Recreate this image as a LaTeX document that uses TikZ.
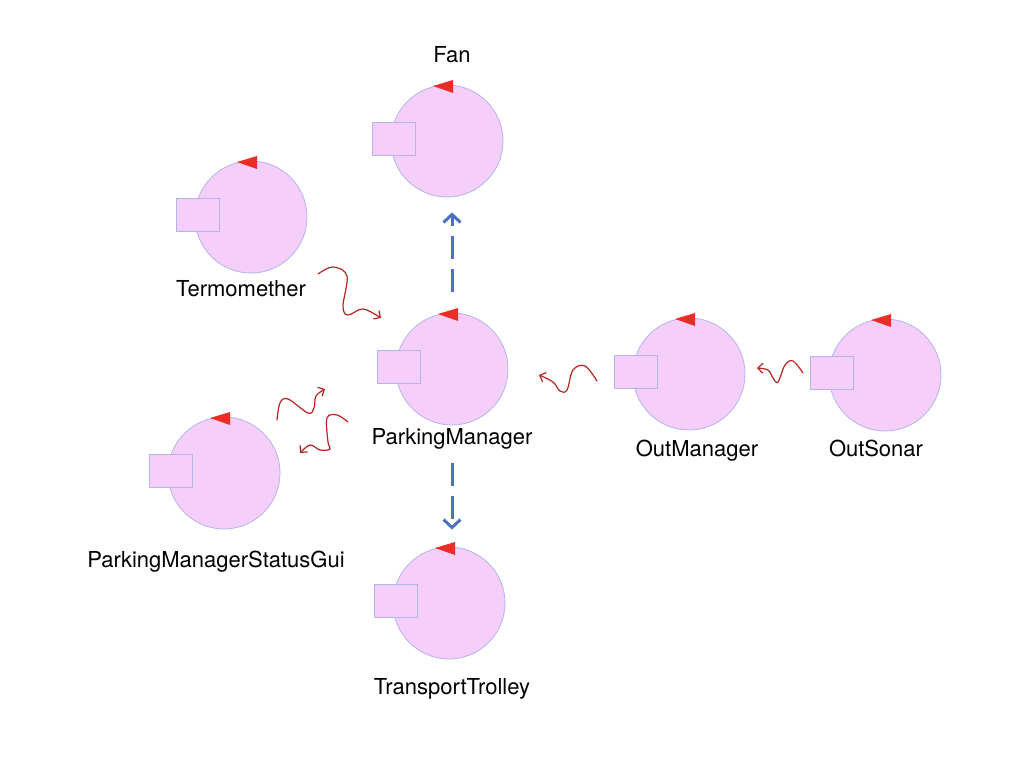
\documentclass[tikz,border=0pt]{standalone}
\usepackage{fontspec}
\setmainfont{TeX Gyre Heros}
\usetikzlibrary{calc,arrows.meta}
\definecolor{cfill}{RGB}{246,206,250}
\definecolor{cborder}{RGB}{178,180,236}
\definecolor{tred}{RGB}{232,46,38}
\definecolor{arrblue}{RGB}{78,112,192}
\definecolor{sqred}{RGB}{184,36,32}
\newcommand\mycomp[3]{%
  \node[comp] (#1) at (#2,#3) {};
  \node[port] (#1-port) at ($(#1)+(-53.5,-2.5)$) {};
  \fill[tred] ($(#1)+(-14,-55)$) -- ($(#1)+(6,-61)$) -- ($(#1)+(6,-48)$) -- cycle;
}
\begin{document}
\begin{tikzpicture}[x=1pt,y=-1pt,
  comp/.style={circle,draw=cborder,fill=cfill,minimum size=112pt,inner sep=0pt,line width=0.8pt},
  port/.style={rectangle,draw=cborder,fill=cfill,minimum width=43pt,minimum height=33pt,inner sep=0pt,line width=0.8pt},
  lbl/.style={font=\fontsize{22}{26}\selectfont,anchor=base,inner sep=0pt},
  flow/.style={draw=arrblue,line width=3pt,dash pattern=on 23pt off 10pt,-{Straight Barb[length=8pt,width=17pt]}},
  squig/.style={draw=sqred,line width=1.2pt,line cap=round,-{Straight Barb[length=5pt,width=10pt]}}]
\useasboundingbox (0,0) rectangle (1024,768);
\fill[white] (0,0) rectangle (1024,768);

\mycomp{fan}{447}{141}
\mycomp{term}{251}{217}
\mycomp{pm}{452}{369}
\mycomp{gui}{224}{473}
\mycomp{tt}{449}{603}
\mycomp{om}{689}{374}
\mycomp{os}{885}{375}

\node[lbl] (fanl) at (452,63) {Fan};
\node[lbl] (terml) at (241,296) {Termomether};
\node[lbl] (pml) at (452,444) {ParkingManager};
\node[lbl] (oml) at (697,456) {OutManager};
\node[lbl] (osl) at (876,456) {OutSonar};
\node[lbl] (guil) at (216,567) {ParkingManagerStatusGui};
\node[lbl] (ttl) at (452,694) {TransportTrolley};

\draw[flow,shorten <=21pt,shorten >=15pt] (pm.north) -- (pm.north |- fan.south);
\draw[flow,shorten <=38pt,shorten >=17pt] (pm.south) -- (pm.south |- tt.north);

\coordinate (s1a) at (318,274); \coordinate (s1b) at (381,318);
\coordinate (s2a) at (277,420); \coordinate (s2b) at (325,389);
\coordinate (s3a) at (348,422); \coordinate (s3b) at (300,453);
\coordinate (s4a) at (597,381); \coordinate (s4b) at (539,375);
\coordinate (s5a) at (803,373); \coordinate (s5b) at (757,368);

\draw[squig] plot[smooth,tension=0.6] coordinates {(s1a) (333,267) (347,276) (343,306) (348,315) (363,309) (s1b)};
\draw[squig] plot[smooth,tension=0.6] coordinates {(s2a) (280,403) (288,399) (308,413) (314,408) (316,396) (s2b)};
\draw[squig] plot[smooth,tension=0.6] coordinates {(s3a) (337,415) (327,418) (328,442) (330,449) (320,450) (310,445) (s3b)};
\draw[squig] plot[smooth,tension=0.6] coordinates {(s4a) (585,366) (573,370) (567,390) (560,391) (553,382) (s4b)};
\draw[squig] plot[smooth,tension=0.6] coordinates {(s5a) (793,361) (785,365) (778,382) (773,378) (768,370) (s5b)};
\end{tikzpicture}
\end{document}
